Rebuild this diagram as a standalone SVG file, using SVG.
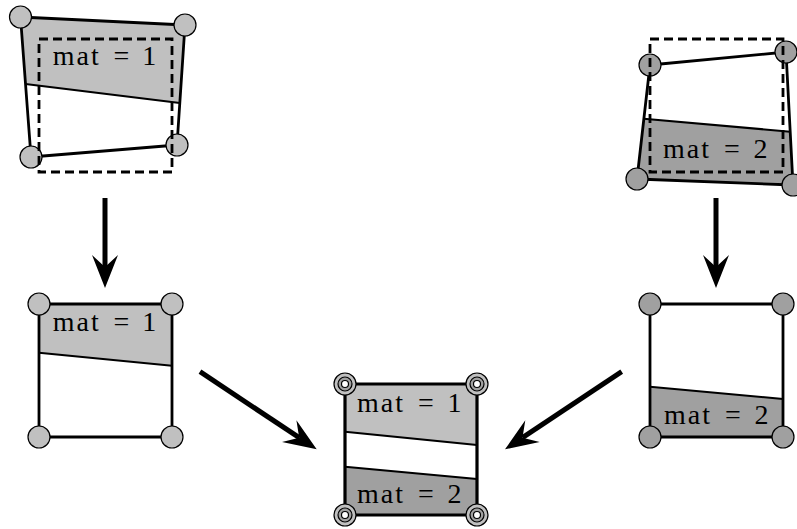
<svg xmlns="http://www.w3.org/2000/svg" width="797" height="529" viewBox="0 0 797 529">
<defs>
<style>
.outline{fill:none;stroke:#000;stroke-width:2.8;stroke-linejoin:round}
.split{fill:none;stroke:#000;stroke-width:2}
.dash{fill:none;stroke:#000;stroke-width:2.8;stroke-dasharray:9 5}
.g1{fill:#c0c0c0;stroke:none}
.g2{fill:#a0a0a0;stroke:none}
.n1{fill:#c0c0c0;stroke:#000;stroke-width:1.2}
.n2{fill:#a0a0a0;stroke:#000;stroke-width:1.2}
.lbl{font-family:"Liberation Serif","DejaVu Serif",serif;font-size:28px;fill:#000}
.m{letter-spacing:2px}
.arrow{fill:none;stroke:#000;stroke-width:5;marker-end:url(#head)}
</style>
<marker id="head" markerUnits="userSpaceOnUse" markerWidth="40" markerHeight="30" viewBox="0 -15 36 30" refX="12" refY="0" orient="auto">
<path d="M0,-13 L33,0 L0,13 L12,0 Z" fill="#000"/>
</marker>
<g id="ring">
<circle r="11" fill="#c0c0c0" stroke="#000" stroke-width="1.2"/>
<circle r="7" fill="#a0a0a0" stroke="#000" stroke-width="1.2"/>
<circle r="3.5" fill="#fff" stroke="#000" stroke-width="1.2"/>
</g>
</defs>
<rect width="797" height="529" fill="#fff"/>

<g id="top-left">
<polygon class="g1" points="20.5,17 185,25 179.8,103 25.5,84"/>
<line class="split" x1="25.5" y1="84" x2="179.8" y2="103"/>
<polygon class="outline" points="20.5,17 185,25 177,145 31,157"/>
<text class="lbl" y="65"><tspan class="m" x="52.7">mat</tspan> <tspan x="113.5">=</tspan> <tspan x="142.2">1</tspan></text>
<circle class="n1" cx="20.5" cy="17" r="11"/>
<circle class="n1" cx="185" cy="25" r="11"/>
<circle class="n1" cx="177" cy="145" r="11"/>
<circle class="n1" cx="31" cy="157" r="11"/>
<rect class="dash" x="39" y="39" width="133" height="133"/>
</g>

<g id="top-right">
<polygon class="g2" points="643.9,118.7 790.2,131.7 793,185 637,179"/>
<line class="split" x1="643.9" y1="118.7" x2="790.2" y2="131.7"/>
<polygon class="outline" points="650,65 786,52 793,185 637,179"/>
<text class="lbl" y="158"><tspan class="m" x="663">mat</tspan> <tspan x="724">=</tspan> <tspan x="753.5">2</tspan></text>
<circle class="n2" cx="650" cy="65" r="11"/>
<circle class="n2" cx="786" cy="52" r="11"/>
<circle class="n2" cx="793" cy="185" r="11"/>
<circle class="n2" cx="637" cy="179" r="11"/>
<rect class="dash" x="650" y="39" width="133" height="133"/>
</g>

<g id="bottom-left">
<polygon class="g1" points="39,304 172,304 172,365.7 39,352.7"/>
<line class="split" x1="39" y1="352.7" x2="172" y2="365.7"/>
<rect class="outline" x="39" y="304" width="133" height="133"/>
<text class="lbl" y="330.7"><tspan class="m" x="52.7">mat</tspan> <tspan x="113.5">=</tspan> <tspan x="142.2">1</tspan></text>
<circle class="n1" cx="39" cy="304" r="11"/>
<circle class="n1" cx="172" cy="304" r="11"/>
<circle class="n1" cx="39" cy="437" r="11"/>
<circle class="n1" cx="172" cy="437" r="11"/>
</g>

<g id="bottom-right">
<polygon class="g2" points="650,386.7 783,399 783,437 650,437"/>
<line class="split" x1="650" y1="386.7" x2="783" y2="399"/>
<rect class="outline" x="650" y="304" width="133" height="133"/>
<text class="lbl" y="424"><tspan class="m" x="664">mat</tspan> <tspan x="725">=</tspan> <tspan x="754.5">2</tspan></text>
<circle class="n2" cx="650" cy="304" r="11"/>
<circle class="n2" cx="783" cy="304" r="11"/>
<circle class="n2" cx="650" cy="437" r="11"/>
<circle class="n2" cx="783" cy="437" r="11"/>
</g>

<g id="merged">
<polygon class="g1" points="345,384 477,384 477,445 345,431.7"/>
<polygon class="g2" points="345,466.7 477,479 477,515 345,515"/>
<line class="split" x1="345" y1="431.7" x2="477" y2="445"/>
<line class="split" x1="345" y1="466.7" x2="477" y2="479"/>
<rect class="outline" x="345" y="384" width="132" height="131" style="stroke-width:3.2"/>
<text class="lbl" y="411.7"><tspan class="m" x="357">mat</tspan> <tspan x="418">=</tspan> <tspan x="447.5">1</tspan></text>
<text class="lbl" y="503"><tspan class="m" x="357">mat</tspan> <tspan x="418">=</tspan> <tspan x="447.5">2</tspan></text>
<use href="#ring" x="345" y="384"/>
<use href="#ring" x="477" y="384"/>
<use href="#ring" x="345" y="515"/>
<use href="#ring" x="477" y="515"/>
</g>

<g id="connectors">
<line class="arrow" x1="105" y1="198" x2="105" y2="267"/>
<line class="arrow" x1="716" y1="198" x2="716" y2="267"/>
<line class="arrow" x1="200" y1="371.7" x2="299.2" y2="437.7"/>
<line class="arrow" x1="621.7" y1="371.7" x2="522.5" y2="437.7"/>
</g>
</svg>
